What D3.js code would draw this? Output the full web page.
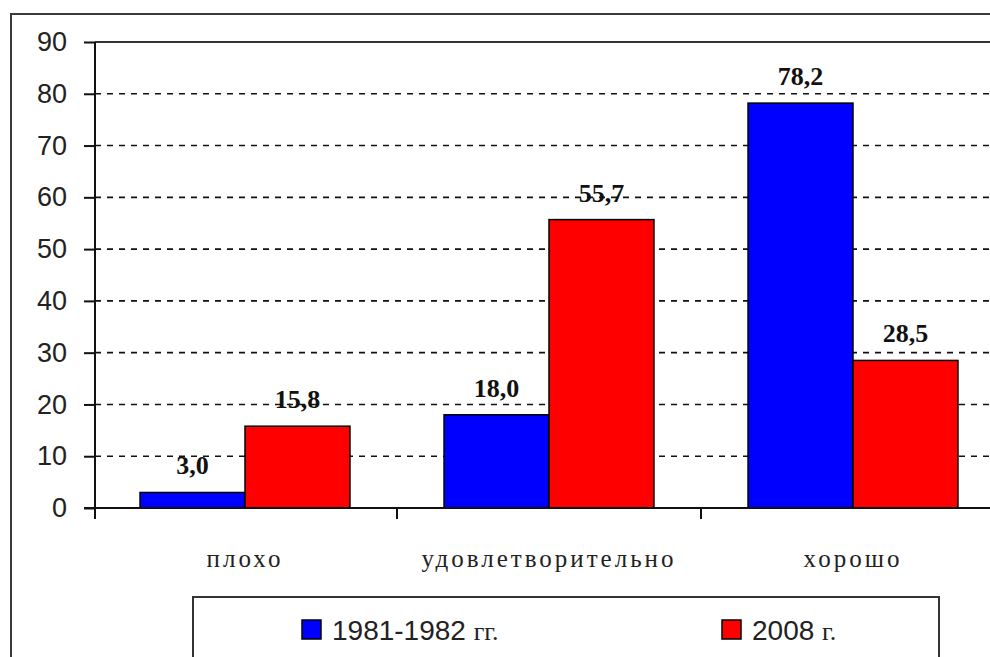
<!DOCTYPE html>
<html>
<head>
<meta charset="utf-8">
<script src="https://cdn.jsdelivr.net/npm/d3@7"></script>
<style>
    body { margin: 0; background: #fff; }
    svg { display: block; }
</style>
</head>
<body>
<div id="viz"></div>
<script>
var categories = ['плохо', 'удовлетворительно', 'хорошо'];
var seriesNames = ['1981-1982 гг.', '2008 г.'];
var seriesColors = ['#0000ff', '#ff0000'];
var values1981 = [3.0, 18.0, 78.2];
var values2008 = [15.8, 55.7, 28.5];
var yTicks = [0, 10, 20, 30, 40, 50, 60, 70, 80, 90];

var width = 990;
var height = 657;

var svg = d3.select('#viz')
    .append('svg')
    .attr('width', width)
    .attr('height', height);

// outer frame (runs off right/bottom)
svg.append('path')
    .attr('d', 'M11,' + (height + 10) + 'V14H' + (width + 10))
    .attr('fill', 'none')
    .attr('stroke', '#3a3a3a')
    .attr('stroke-width', 2);

var x = d3.scaleBand()
    .domain(categories)
    .range([93, 1005]);

var xSub = d3.scaleBand()
    .domain(seriesNames)
    .range([0, x.bandwidth()])
    .paddingOuter(0.448);

var y = d3.scaleLinear()
    .domain([0, 90])
    .range([508, 42]);

var left = 95;

// gridlines
svg.append('g')
    .selectAll('line')
    .data(yTicks.filter(function (d) { return d > 0 && d < 90; }))
    .enter().append('line')
    .attr('x1', left)
    .attr('x2', width)
    .attr('y1', function (d) { return y(d); })
    .attr('y2', function (d) { return y(d); })
    .attr('stroke', '#111')
    .attr('stroke-width', 1.6)
    .attr('stroke-dasharray', '6,6');

// top border of plot
svg.append('line')
    .attr('x1', left).attr('x2', width)
    .attr('y1', y(90)).attr('y2', y(90))
    .attr('stroke', '#333')
    .attr('stroke-width', 2);

// bars
var data = [];
categories.forEach(function (c, i) {
    data.push({ cat: c, s: seriesNames[0], v: values1981[i], color: seriesColors[0] });
    data.push({ cat: c, s: seriesNames[1], v: values2008[i], color: seriesColors[1] });
});

svg.append('g')
    .selectAll('rect')
    .data(data)
    .enter().append('rect')
    .attr('x', function (d) { return x(d.cat) + xSub(d.s); })
    .attr('y', function (d) { return y(d.v); })
    .attr('width', xSub.bandwidth())
    .attr('height', function (d) { return y(0) - y(d.v); })
    .attr('fill', function (d) { return d.color; })
    .attr('stroke', '#000')
    .attr('stroke-width', 1.5);

// value labels
svg.append('g')
    .selectAll('text')
    .data(data)
    .enter().append('text')
    .attr('x', function (d) { return x(d.cat) + xSub(d.s) + xSub.bandwidth() / 2; })
    .attr('y', function (d) { return y(d.v) - 18; })
    .attr('text-anchor', 'middle')
    .style('font-family', '"Liberation Serif", "Times New Roman", serif')
    .style('font-weight', 'bold')
    .style('font-size', '26px')
    .attr('fill', '#111')
    .text(function (d) { return d.v.toFixed(1).replace('.', ','); });

// y axis
var yAxis = svg.append('g')
    .attr('transform', 'translate(' + left + ',0)')
    .call(d3.axisLeft(y).tickValues(yTicks).tickSize(11).tickPadding(17));
yAxis.select('.domain').remove();
yAxis.append('line')
    .attr('x1', 0).attr('x2', 0)
    .attr('y1', y(90)).attr('y2', y(0) + 11)
    .attr('stroke', '#111')
    .attr('stroke-width', 2);
yAxis.selectAll('.tick line').attr('stroke', '#111').attr('stroke-width', 2);
yAxis.selectAll('.tick text')
    .attr('fill', '#222')
    .style('font-family', '"Liberation Sans", Arial, sans-serif')
    .style('font-size', '27px');

// x axis
svg.append('line')
    .attr('x1', left - 11).attr('x2', width)
    .attr('y1', y(0)).attr('y2', y(0))
    .attr('stroke', '#111')
    .attr('stroke-width', 2);

svg.append('g')
    .selectAll('line')
    .data(categories.slice(1))
    .enter().append('line')
    .attr('x1', function (d) { return x(d); })
    .attr('x2', function (d) { return x(d); })
    .attr('y1', y(0))
    .attr('y2', y(0) + 11)
    .attr('stroke', '#111')
    .attr('stroke-width', 2);

// category labels: courier-like look, faked with spaced serif
svg.append('g')
    .selectAll('text')
    .data(categories)
    .enter().append('text')
    .attr('x', function (d) { return x(d) + x.bandwidth() / 2; })
    .attr('y', 567)
    .attr('text-anchor', 'middle')
    .style('font-family', '"Liberation Serif", "Times New Roman", serif')
    .style('font-size', '25px')
    .style('letter-spacing', '3px')
    .attr('fill', '#222')
    .text(function (d) { return d; });

// legend
svg.append('rect')
    .attr('x', 193).attr('y', 597)
    .attr('width', 746).attr('height', 100)
    .attr('fill', '#fff')
    .attr('stroke', '#333')
    .attr('stroke-width', 2);

var legendX = [302, 722];
var legend = svg.append('g')
    .selectAll('g')
    .data(seriesNames)
    .enter().append('g')
    .attr('transform', function (d, i) { return 'translate(' + legendX[i] + ',620)'; });

legend.append('rect')
    .attr('width', 19).attr('height', 19)
    .attr('fill', function (d, i) { return seriesColors[i]; })
    .attr('stroke', '#000')
    .attr('stroke-width', 1.5);

var lt = legend.append('text')
    .attr('x', 30)
    .attr('y', 20)
    .attr('fill', '#222')
    .style('font-size', '28px');
lt.append('tspan')
    .style('font-family', '"Liberation Sans", Arial, sans-serif')
    .text(function (d) { return d.split(' ')[0] + ' '; });
lt.append('tspan')
    .style('font-family', '"Liberation Serif", "Times New Roman", serif')
    .style('font-size', '26px')
    .text(function (d) { return d.split(' ')[1]; });
</script>
</body>
</html>
